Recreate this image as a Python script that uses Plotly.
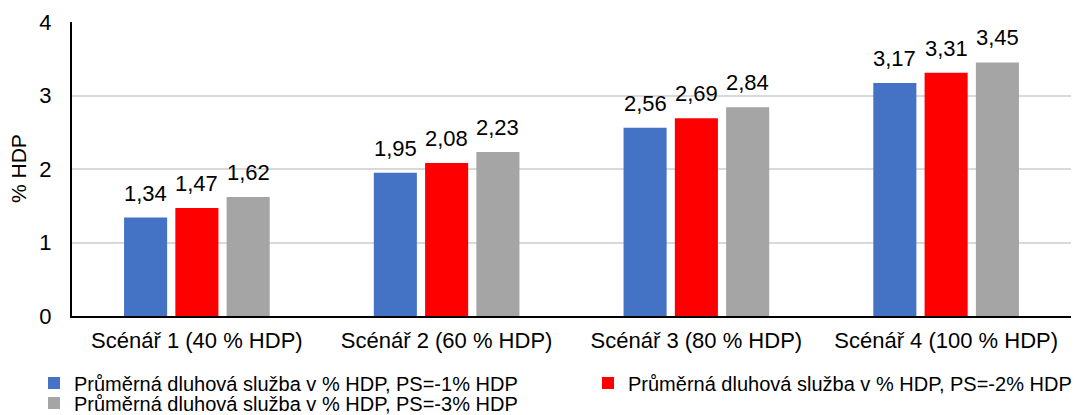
import plotly.graph_objects as go

categories = ["Scénář 1 (40 % HDP)", "Scénář 2 (60 % HDP)", "Scénář 3 (80 % HDP)", "Scénář 4 (100 % HDP)"]
series_names = [
    "Průměrná dluhová služba v % HDP, PS=-1% HDP",
    "Průměrná dluhová služba v % HDP, PS=-2% HDP",
    "Průměrná dluhová služba v % HDP, PS=-3% HDP",
]
ps1 = [1.34, 1.95, 2.56, 3.17]
ps2 = [1.47, 2.08, 2.69, 3.31]
ps3 = [1.62, 2.23, 2.84, 3.45]
y_ticks = [0, 1, 2, 3, 4]
y_title = "% HDP"

colors = ["#4472C4", "#FF0000", "#A5A5A5"]
font_family = "Liberation Sans, Arial, sans-serif"
BARGAP = 0.384
BARGROUPGAP = 0.16

# each series gets its own single-entry legend so entries can sit like a 2-column grid
legend_ids = ["legend", "legend2", "legend3"]
legend_pos = [(34, 383), (588, 383), (34, 403)]  # (x, y) in container pixels

fig = go.Figure()
series = [ps1, ps2, ps3]
for name, vals, col, lid in zip(series_names, series, colors, legend_ids):
    fig.add_trace(go.Bar(
        x=categories, y=vals, name=name, legend=lid,
        marker=dict(color=col, line=dict(width=0)),
    ))

# value labels above each bar, positioned from the grouped-bar geometry
n = len(series)
slot = (1 - BARGAP) / n
for s, vals in enumerate(series):
    offset = (s - (n - 1) / 2) * slot
    for i, v in enumerate(vals):
        fig.add_annotation(
            x=i + offset, y=v, xref="x", yref="y",
            text=f"{v:.2f}".replace(".", ","), showarrow=False,
            yanchor="bottom", yshift=10,
            font=dict(size=22, color="#000000", family=font_family),
        )

# vertical axis title
fig.add_annotation(
    x=0, y=0.5, xref="paper", yref="paper", xshift=-54,
    text=y_title, textangle=-90, showarrow=False,
    xanchor="center", yanchor="middle",
    font=dict(size=21, color="#000000", family=font_family),
)

legend_layout = {}
for lid, (px, py) in zip(legend_ids, legend_pos):
    legend_layout[lid] = dict(
        orientation="v", xref="container", x=px / 1075, xanchor="left",
        yref="container", y=1 - py / 415, yanchor="middle",
        font=dict(size=20, color="#000000", family=font_family),
        itemwidth=30, bgcolor="rgba(0,0,0,0)",
    )

fig.update_layout(
    width=1075, height=415,
    margin=dict(l=72, r=4, t=22, b=99, autoexpand=False),
    paper_bgcolor="white", plot_bgcolor="white",
    barmode="group", bargap=BARGAP, bargroupgap=BARGROUPGAP,
    font=dict(family=font_family, size=22, color="#000000"),
    showlegend=True,
    **legend_layout,
)
fig.update_xaxes(
    showline=True, linecolor="#000000", linewidth=2,
    showgrid=False, ticks="outside", ticklen=4, tickcolor="rgba(0,0,0,0)",
    tickfont=dict(size=22),
)
fig.update_yaxes(
    range=[0, 4], tickvals=y_ticks, showline=True, linecolor="#000000", linewidth=2,
    showgrid=True, gridcolor="#D9D9D9", gridwidth=2, zeroline=False,
    ticks="outside", ticklen=14, tickcolor="rgba(0,0,0,0)",
    tickfont=dict(size=22),
)

fig.write_html("out.html")
